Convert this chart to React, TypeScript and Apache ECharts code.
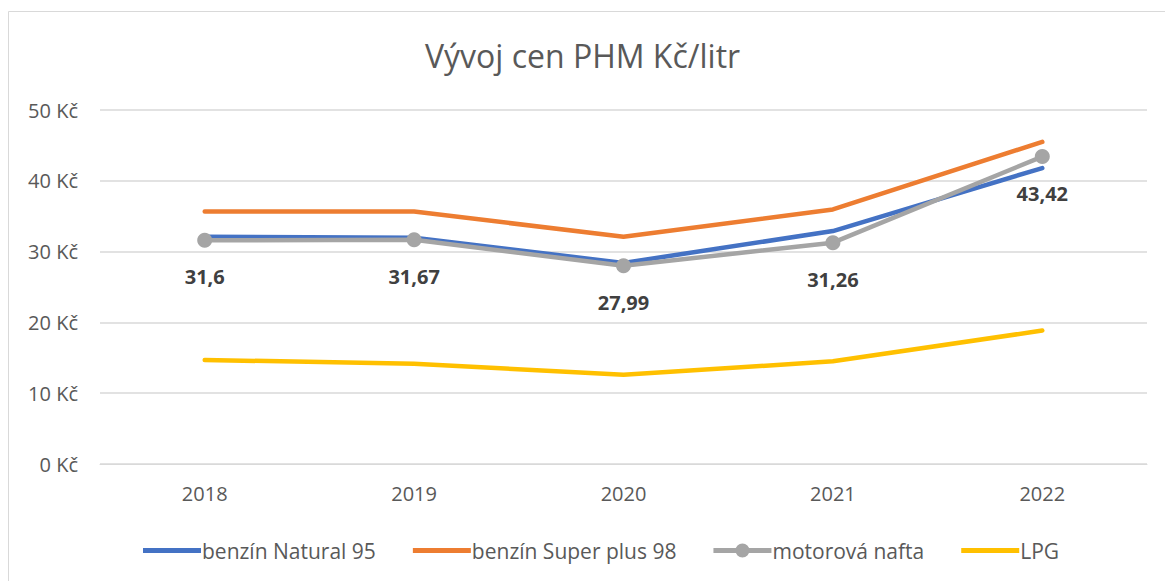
import React, { useEffect, useRef } from "react";
import * as echarts from "echarts";

const years = ["2018", "2019", "2020", "2021", "2022"];
const natural95 = [32.1, 31.95, 28.4, 32.9, 41.8];
const super98 = [35.65, 35.65, 32.1, 35.95, 45.5];
const nafta = [31.6, 31.67, 27.99, 31.26, 43.42];
const lpg = [14.7, 14.15, 12.6, 14.5, 18.85];
const seriesNames = ["benzín Natural 95", "benzín Super plus 98", "motorová nafta", "LPG"];
const colors = ["#4472c4", "#ed7d31", "#a5a5a5", "#ffc000"];
const titleText = "Vývoj cen PHM Kč/litr";

const FONT = "'Open Sans', sans-serif";
const LINE_ICON = "path://M0,4.5h58v5h-58z";
const MARKER_ICON = "path://M0,4.5h58v5h-58z M22,7a7,7 0 1,1 14,0a7,7 0 1,1 -14,0z";

export default function App() {
  const ref = useRef<HTMLDivElement>(null);
  useEffect(() => {
    if (!ref.current) return;
    const chart = echarts.init(ref.current, null, { renderer: "svg" });
    const datas = [natural95, super98, nafta, lpg];
    chart.setOption({
      animation: false,
      color: colors,
      title: {
        text: titleText,
        left: "center",
        top: 34,
        textStyle: { fontFamily: FONT, fontSize: 32, fontWeight: "normal", color: "#595959" },
      },
      graphic: [
        {
          type: "rect",
          shape: { x: 8.5, y: 11.5, width: 1160, height: 580 },
          style: { fill: "none", stroke: "#d9d9d9", lineWidth: 1 },
          silent: true,
        },
      ],
      grid: { left: 100, right: 18, top: 110, bottom: 117 },
      legend: {
        top: 535,
        left: 138,
        itemWidth: 58,
        itemHeight: 14,
        itemGap: 37,
        textStyle: { fontFamily: FONT, fontSize: 21, color: "#595959", padding: [0, 0, 0, -4] },
        data: seriesNames.map((n, i) => ({ name: n, icon: i === 2 ? MARKER_ICON : LINE_ICON })),
      },
      xAxis: {
        type: "category",
        data: years,
        boundaryGap: true,
        axisLine: { lineStyle: { color: "#d9d9d9" } },
        axisTick: { show: false },
        axisLabel: { fontFamily: FONT, fontSize: 20, color: "#595959", margin: 19 },
      },
      yAxis: {
        type: "value",
        min: 0,
        max: 50,
        interval: 10,
        axisLine: { show: false },
        axisTick: { show: false },
        splitLine: { lineStyle: { color: "#d9d9d9", width: 1.5 } },
        axisLabel: {
          fontFamily: FONT,
          fontSize: 20,
          color: "#595959",
          margin: 22,
          formatter: (v: number) => `${v} Kč`,
        },
      },
      series: datas.map((d, i) => ({
        name: seriesNames[i],
        type: "line",
        data: d,
        symbol: i === 2 ? "circle" : "none",
        symbolSize: 15,
        showSymbol: i === 2,
        lineStyle: { width: 4.5, color: colors[i], cap: "round", join: "round" },
        itemStyle: { color: colors[i] },
        label:
          i === 2
            ? {
                show: true,
                position: "bottom",
                distance: 19,
                fontFamily: FONT,
                fontSize: 20,
                fontWeight: "bold",
                color: "#404040",
                formatter: (p: any) => String(p.value).replace(".", ","),
              }
            : { show: false },
      })),
    });
    return () => chart.dispose();
  }, []);
  return (
    <div
      ref={ref}
      style={{ position: "fixed", left: 0, top: 0, width: 1165, height: 581, background: "#fff" }}
    />
  );
}
